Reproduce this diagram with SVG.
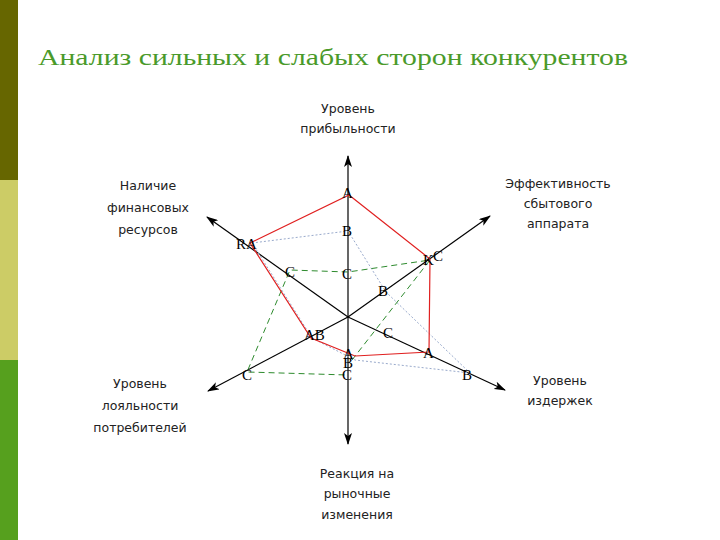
<svg xmlns="http://www.w3.org/2000/svg" width="720" height="540" viewBox="0 0 720 540">
<style>
.ax{stroke:#000;stroke-width:1.2;fill:none}
.lb{font-family:"Liberation Serif",serif;font-size:15px;fill:#000}
.al{font-family:"DejaVu Sans",sans-serif;font-size:12.5px;fill:#222;text-anchor:middle}
</style>
<defs><marker id="ar" viewBox="0 0 12 8" refX="11" refY="4" markerWidth="12" markerHeight="8" markerUnits="userSpaceOnUse" orient="auto"><path d="M0,0 L12,4 L0,8 L3,4 Z" fill="#000"/></marker></defs>
<rect width="720" height="540" fill="#fff"/>
<rect x="0" y="0" width="18" height="180" fill="#666600"/>
<rect x="0" y="180" width="18" height="180" fill="#cccc66"/>
<rect x="0" y="360" width="18" height="180" fill="#56a01e"/>
<text x="38" y="65" font-family="Liberation Serif,serif" font-size="23" fill="#4a9a2a" textLength="590" lengthAdjust="spacingAndGlyphs">Анализ сильных и слабых сторон  конкурентов</text>
<g id="connectors">
<line class="ax" x1="348" y1="317" x2="348" y2="156" marker-end="url(#ar)"/>
<line class="ax" x1="348" y1="317" x2="348" y2="444" marker-end="url(#ar)"/>
<line class="ax" x1="348" y1="317" x2="207" y2="217" marker-end="url(#ar)"/>
<line class="ax" x1="348" y1="317" x2="505" y2="390" marker-end="url(#ar)"/>
<line class="ax" x1="348" y1="317" x2="490" y2="216" marker-end="url(#ar)"/>
<line class="ax" x1="348" y1="317" x2="208" y2="391" marker-end="url(#ar)"/>
<polygon points="252,243 348,231 386,292 470,373 355,360 312,338" fill="none" stroke="#99aacc" stroke-width="1" stroke-dasharray="2,2"/>
<polyline points="352,360 430,260 348,272 290,270 247,372 348,375" fill="none" stroke="#2e8b2e" stroke-width="1" stroke-dasharray="6,4"/>
<polygon points="349,195 430,259 429,352 355,356 311,338 250,243" fill="none" stroke="#e02020" stroke-width="1.2"/>
</g>
<g id="labels">
<text class="lb" x="342" y="198">A</text>
<text class="lb" x="342" y="236">B</text>
<text class="lb" x="342" y="279">C</text>
<text class="lb" x="236" y="249">RA</text>
<text class="lb" x="285" y="277">C</text>
<text class="lb" x="423" y="265">K</text>
<text class="lb" x="433" y="261">C</text>
<text class="lb" x="378" y="296">B</text>
<text class="lb" x="383" y="338">C</text>
<text class="lb" x="423" y="358">A</text>
<text class="lb" x="462" y="380">B</text>
<text class="lb" x="343" y="359">A</text>
<text class="lb" x="343" y="368">B</text>
<text class="lb" x="342" y="380">C</text>
<text class="lb" x="304" y="340">AB</text>
<text class="lb" x="242" y="380">C</text>
</g>
<g id="axis-labels">
<text class="al" x="348" y="113">Уровень</text>
<text class="al" x="348" y="133">прибыльности</text>
<text class="al" x="558" y="188">Эффективность</text>
<text class="al" x="558" y="208">сбытового</text>
<text class="al" x="558" y="228">аппарата</text>
<text class="al" x="148" y="190">Наличие</text>
<text class="al" x="148" y="212">финансовых</text>
<text class="al" x="148" y="234">ресурсов</text>
<text class="al" x="560" y="385">Уровень</text>
<text class="al" x="560" y="405">издержек</text>
<text class="al" x="140" y="388">Уровень</text>
<text class="al" x="140" y="410">лояльности</text>
<text class="al" x="140" y="432">потребителей</text>
<text class="al" x="357" y="478">Реакция на</text>
<text class="al" x="357" y="498">рыночные</text>
<text class="al" x="357" y="519">изменения</text>
</g>
</svg>
